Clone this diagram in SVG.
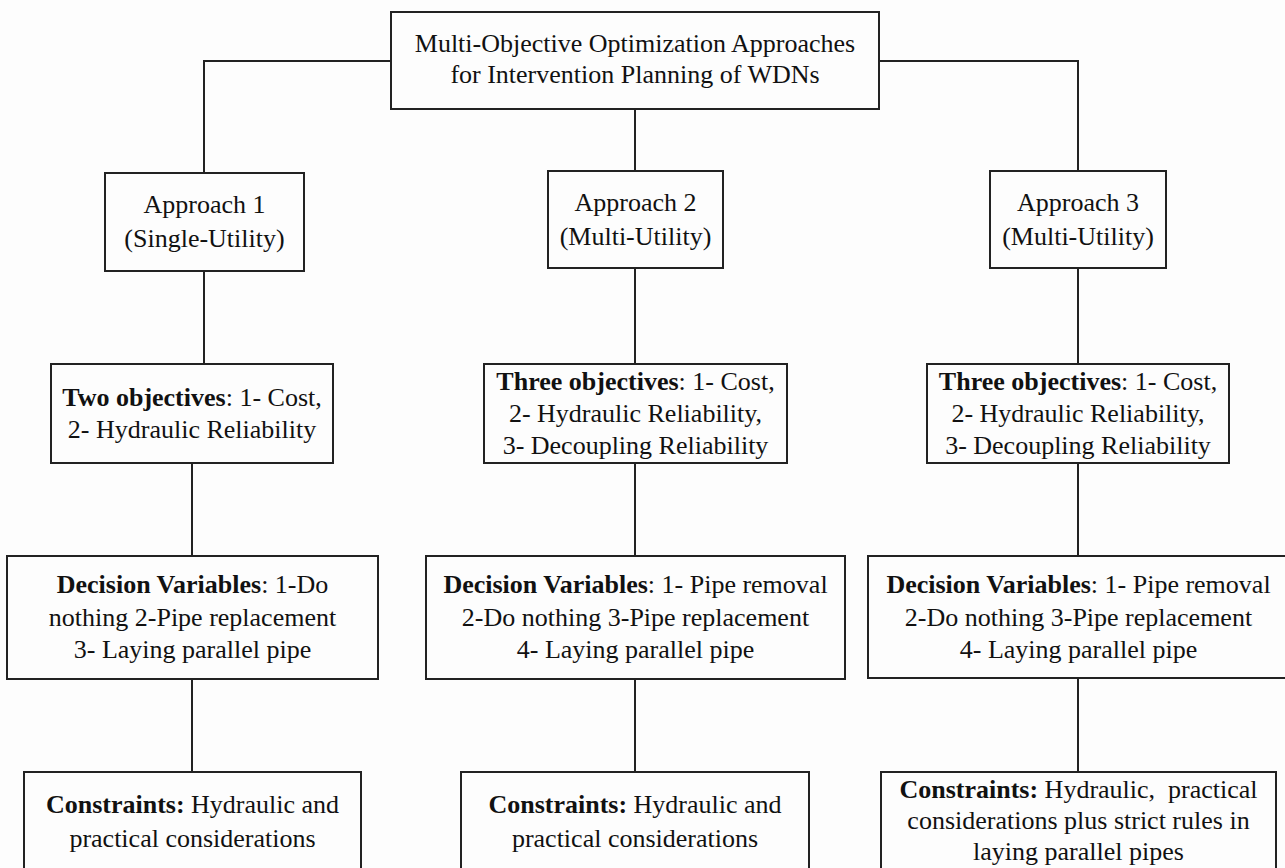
<svg xmlns="http://www.w3.org/2000/svg" width="1285" height="868" viewBox="0 0 1285 868">
<style>
.box{fill:#fdfdfd;stroke:#222;stroke-width:2}
.ln{fill:none;stroke:#222;stroke-width:2}
text{font-family:"Liberation Serif","Times New Roman",serif;font-size:26px;fill:#111;text-anchor:middle}
.b{font-weight:bold}
</style>
<rect x="0" y="0" width="1285" height="868" fill="#fdfdfd"/>
<g id="connectors">
<path class="ln" d="M391,61 H204 V173"/>
<path class="ln" d="M879,61 H1078 V171"/>
<path class="ln" d="M635,109 V171"/>
<path class="ln" d="M204,271 V364"/>
<path class="ln" d="M635,268 V364"/>
<path class="ln" d="M1078,268 V364"/>
<path class="ln" d="M192,463 V556"/>
<path class="ln" d="M635,463 V556"/>
<path class="ln" d="M1078,463 V556"/>
<path class="ln" d="M192,679 V772"/>
<path class="ln" d="M635,679 V772"/>
<path class="ln" d="M1078,678 V772"/>
</g>
<g id="root">
<rect class="box" x="391" y="12" width="488" height="97"/>
<text x="635" y="52">Multi-Objective Optimization Approaches</text>
<text x="635" y="83">for Intervention Planning of WDNs</text>
</g>
<g id="approach1">
<rect class="box" x="105" y="173" width="199" height="98"/>
<text x="204.5" y="213">Approach 1</text>
<text x="204.5" y="247">(Single-Utility)</text>
</g>
<g id="approach2">
<rect class="box" x="548" y="171" width="175" height="97"/>
<text x="635.5" y="211">Approach 2</text>
<text x="635.5" y="245">(Multi-Utility)</text>
</g>
<g id="approach3">
<rect class="box" x="990" y="171" width="176" height="97"/>
<text x="1078" y="211">Approach 3</text>
<text x="1078" y="245">(Multi-Utility)</text>
</g>
<g id="objectives1">
<rect class="box" x="51" y="364" width="282" height="99"/>
<text x="192" y="406"><tspan class="b">Two objectives</tspan>: 1- Cost,</text>
<text x="192" y="438">2- Hydraulic Reliability</text>
</g>
<g id="objectives2">
<rect class="box" x="484" y="364" width="303" height="99"/>
<text x="635.5" y="390"><tspan class="b">Three objectives</tspan>: 1- Cost,</text>
<text x="635.5" y="422">2- Hydraulic Reliability,</text>
<text x="635.5" y="454">3- Decoupling Reliability</text>
</g>
<g id="objectives3">
<rect class="box" x="927" y="364" width="302" height="99"/>
<text x="1078" y="390"><tspan class="b">Three objectives</tspan>: 1- Cost,</text>
<text x="1078" y="422">2- Hydraulic Reliability,</text>
<text x="1078" y="454">3- Decoupling Reliability</text>
</g>
<g id="decision1">
<rect class="box" x="7" y="556" width="371" height="123"/>
<text x="192.5" y="593"><tspan class="b">Decision Variables</tspan>: 1-Do</text>
<text x="192.5" y="626">nothing 2-Pipe replacement</text>
<text x="192.5" y="658">3- Laying parallel pipe</text>
</g>
<g id="decision2">
<rect class="box" x="426" y="556" width="419" height="123"/>
<text x="635.5" y="593"><tspan class="b">Decision Variables</tspan>: 1- Pipe removal</text>
<text x="635.5" y="626">2-Do nothing 3-Pipe replacement</text>
<text x="635.5" y="658">4- Laying parallel pipe</text>
</g>
<g id="decision3">
<rect class="box" x="868" y="556" width="422" height="122"/>
<text x="1078.5" y="593"><tspan class="b">Decision Variables</tspan>: 1- Pipe removal</text>
<text x="1078.5" y="626">2-Do nothing 3-Pipe replacement</text>
<text x="1078.5" y="658">4- Laying parallel pipe</text>
</g>
<g id="constraints1">
<rect class="box" x="24" y="772" width="337" height="110"/>
<text x="192.5" y="813"><tspan class="b">Constraints:</tspan> Hydraulic and</text>
<text x="192.5" y="847">practical considerations</text>
</g>
<g id="constraints2">
<rect class="box" x="461" y="772" width="348" height="110"/>
<text x="635" y="813"><tspan class="b">Constraints:</tspan> Hydraulic and</text>
<text x="635" y="847">practical considerations</text>
</g>
<g id="constraints3">
<rect class="box" x="881" y="772" width="395" height="110"/>
<text x="1078.5" y="798"><tspan class="b">Constraints:</tspan> Hydraulic,&#160; practical</text>
<text x="1078.5" y="829">considerations plus strict rules in</text>
<text x="1078.5" y="860">laying parallel pipes</text>
</g>
</svg>
